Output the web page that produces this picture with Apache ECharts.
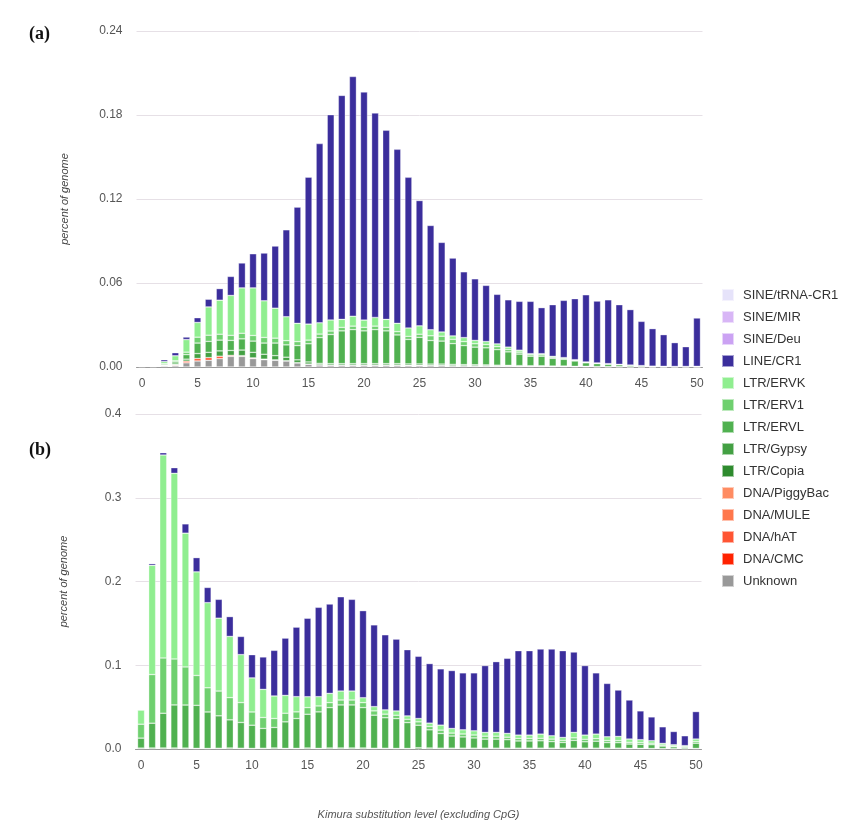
<!DOCTYPE html>
<html lang="en">
<head>
    <meta charset="UTF-8">
    <title>Kimura landscape</title>
    <script src="https://cdn.jsdelivr.net/npm/echarts@6/dist/echarts.min.js"></script>
    <style>
        html, body { margin: 0; padding: 0; background: #fff; }
        #main { width: 856px; height: 825px; }
    </style>
</head>
<body>
<div id="main"></div>
<script>
    // Kimura levels 0..50
    var levels = [];
    for (var i = 0; i <= 50; i++) levels.push(String(i));

    var legendNames = ['SINE/tRNA-CR1', 'SINE/MIR', 'SINE/Deu', 'LINE/CR1', 'LTR/ERVK', 'LTR/ERV1', 'LTR/ERVL',
        'LTR/Gypsy', 'LTR/Copia', 'DNA/PiggyBac', 'DNA/MULE', 'DNA/hAT', 'DNA/CMC', 'Unknown'];

    // (a) percent of genome
    var aUnknown = [0.0003,0.0003,0.0007,0.001,0.003,0.0043,0.0048,0.006,0.0076,0.0076,0.006,0.0052,0.0048,0.0043,0.0029,0.0019,0.0014,0.0012,0.0012,0.0012,0.0012,0.0012,0.0012,0.0012,0.001,0.001,0.001,0.001,0.0008,0.0008,0.0007,0.0007,0.0006,0.0006,0.0005,0.0005,0.0005,0.0004,0.0004,0.0003,0.0003,0.0002,0.0002,0.0002,0.0001,0.0001,0.0001,0.0001,0.0001,0.0001,0.0001];
    var aHat = [0,0,0.0002,0.0005,0.0012,0.0018,0.0019,0.0017,0.0007,0.0005,0.0005,0.0004,0.0003,0.0002,0.0002,0.0002,0.0002,0.0002,0.0002,0.0002,0.0002,0.0002,0.0002,0.0002,0.0002,0.0002,0.0001,0.0001,0.0001,0.0001,0.0001,0.0001,0.0001,0.0001,0,0,0,0,0,0,0,0,0,0,0,0,0,0,0,0,0];
    var aGypsy = [0,0,0.0003,0.0006,0.0014,0.0035,0.0038,0.0038,0.0035,0.004,0.004,0.0035,0.003,0.0025,0.002,0.0015,0.001,0.001,0.001,0.001,0.001,0.001,0.001,0.001,0.001,0.001,0.001,0.001,0.001,0.0008,0.0008,0.0007,0.0006,0.0005,0.0005,0.0004,0.0004,0.0003,0.0003,0.0002,0.0002,0.0001,0.0001,0.0001,0.0001,0,0,0,0,0,0];
    var aErvl = [0.0003,0.0003,0.0008,0.0015,0.0032,0.0075,0.0078,0.0077,0.0072,0.008,0.008,0.008,0.009,0.0088,0.0102,0.013,0.0184,0.0208,0.0234,0.0243,0.0234,0.0243,0.0234,0.0205,0.0175,0.019,0.0168,0.0164,0.0148,0.0136,0.0126,0.0122,0.0111,0.0096,0.0082,0.0068,0.0068,0.0055,0.0048,0.0038,0.0025,0.0021,0.0017,0.0013,0.001,0.0007,0.0004,0.0003,0.0003,0.0003,0.0004];
    var aErv1 = [0.0001,0.0001,0.0004,0.0008,0.0018,0.0042,0.0044,0.0042,0.0036,0.004,0.004,0.004,0.0035,0.003,0.0028,0.0026,0.0025,0.0025,0.0025,0.0025,0.0025,0.0025,0.0025,0.0023,0.0022,0.0022,0.0034,0.0035,0.0031,0.0028,0.0024,0.0023,0.0021,0.0017,0.0014,0.001,0.001,0.0008,0.0007,0.0005,0.0003,0.0003,0.0002,0.0002,0.0001,0.0001,0.0001,0.0001,0,0,0];
    var aErvk = [0.0004,0.0004,0.0015,0.0036,0.009,0.0105,0.0202,0.0243,0.0285,0.0324,0.034,0.0262,0.0214,0.0171,0.0131,0.0114,0.0081,0.0079,0.0057,0.0071,0.0052,0.0062,0.0057,0.006,0.006,0.006,0.0043,0.003,0.0024,0.0029,0.0024,0.0022,0.002,0.0017,0.0014,0.0008,0.0008,0.0006,0.0005,0.0004,0.0003,0.0002,0.0002,0.0001,0.0001,0.0001,0,0,0,0,0];
    var aCr1 = [0.0003,0.0003,0.0013,0.0022,0.0018,0.0034,0.0055,0.0083,0.0136,0.0178,0.0244,0.0341,0.0444,0.0621,0.083,0.105,0.128,0.1466,0.16,0.1712,0.1629,0.146,0.1351,0.1243,0.1076,0.0895,0.0745,0.064,0.0556,0.047,0.044,0.0401,0.0354,0.0338,0.0349,0.0374,0.0329,0.0369,0.0409,0.0436,0.048,0.0442,0.0456,0.0426,0.0396,0.0316,0.0268,0.0226,0.017,0.0141,0.0345];

    // (b) percent of genome
    var bGypsy = [0.0011,0.0012,0.0012,0.0012,0.0011,0.0008,0.0007,0.0009,0.0012,0.0009,0.0007,0.0009,0.0012,0.0008,0.0008,0.0012,0.0008,0.0012,0.0012,0.0012,0.0012,0.0009,0.0009,0.0007,0.0007,0.0015,0.0012,0.001,0.001,0.001,0.001,0.001,0.001,0.001,0.001,0.001,0.001,0.001,0.001,0.001,0.001,0.001,0.001,0.001,0.0008,0.0008,0.0006,0.0005,0.0004,0.0003,0.0007];
    var bErvl = [0.0119,0.0296,0.0415,0.0514,0.0514,0.0514,0.0435,0.0387,0.0336,0.0308,0.0277,0.0237,0.0245,0.0316,0.0356,0.0403,0.0435,0.0482,0.0514,0.0514,0.0482,0.0395,0.0364,0.0356,0.0308,0.0269,0.0217,0.0175,0.0145,0.0134,0.0122,0.0108,0.0108,0.0101,0.0086,0.0086,0.0088,0.0078,0.0068,0.0093,0.0076,0.0083,0.0066,0.0065,0.0051,0.0048,0.0045,0.003,0.0022,0.0017,0.0062];
    var bErv1 = [0.0166,0.0581,0.066,0.0549,0.0455,0.0356,0.0289,0.0296,0.0265,0.0237,0.0158,0.013,0.0107,0.0103,0.0079,0.0079,0.0071,0.0059,0.0059,0.0059,0.0059,0.0051,0.0043,0.004,0.004,0.004,0.004,0.004,0.0035,0.0035,0.0035,0.0035,0.0035,0.003,0.003,0.003,0.003,0.003,0.0025,0.003,0.003,0.003,0.0025,0.0025,0.002,0.002,0.0018,0.0012,0.001,0.0008,0.002];
    var bErvk = [0.017,0.1304,0.2423,0.2217,0.1597,0.1237,0.1016,0.087,0.0731,0.0573,0.0407,0.0336,0.0269,0.0213,0.0182,0.013,0.0111,0.0111,0.0107,0.0107,0.0059,0.0051,0.0051,0.0051,0.004,0.004,0.004,0.006,0.0055,0.005,0.005,0.0045,0.0045,0.0045,0.004,0.004,0.005,0.004,0.0035,0.0065,0.005,0.0055,0.0045,0.005,0.004,0.0035,0.003,0.002,0.0015,0.0012,0.003];
    var bCr1 = [0,0.002,0.0028,0.0067,0.0111,0.017,0.0182,0.0225,0.0237,0.0217,0.0277,0.0387,0.0545,0.0684,0.083,0.0937,0.1067,0.1067,0.1126,0.1095,0.104,0.0976,0.0897,0.0858,0.0791,0.0743,0.0711,0.0672,0.0692,0.068,0.0692,0.0798,0.0845,0.0897,0.1008,0.1008,0.1016,0.1036,0.1036,0.096,0.083,0.0731,0.0637,0.0554,0.0466,0.0344,0.0284,0.0198,0.0158,0.0118,0.0328];

    var colors = {
        'SINE/tRNA-CR1': '#e6e3fa', 'SINE/MIR': '#d8b6f6', 'SINE/Deu': '#cba2f3', 'LINE/CR1': '#3b2e9c',
        'LTR/ERVK': '#90ee90', 'LTR/ERV1': '#6fd06f', 'LTR/ERVL': '#50b150', 'LTR/Gypsy': '#43a043',
        'LTR/Copia': '#2e8b2e', 'DNA/PiggyBac': '#ff8c62', 'DNA/MULE': '#ff774c', 'DNA/hAT': '#ff5533',
        'DNA/CMC': '#ff2200', 'Unknown': '#999999'
    };

    // stacking order, bottom to top
    var stackOrder = legendNames.slice().reverse();
    var topData = {'Unknown': aUnknown, 'DNA/hAT': aHat, 'LTR/Gypsy': aGypsy, 'LTR/ERVL': aErvl,
        'LTR/ERV1': aErv1, 'LTR/ERVK': aErvk, 'LINE/CR1': aCr1};
    var botData = {'LTR/Gypsy': bGypsy, 'LTR/ERVL': bErvl, 'LTR/ERV1': bErv1, 'LTR/ERVK': bErvk, 'LINE/CR1': bCr1};

    function makeSeries(dataMap, idx, stack) {
        return stackOrder.map(function (name) {
            return {
                name: name,
                type: 'bar',
                stack: stack,
                xAxisIndex: idx,
                yAxisIndex: idx,
                barWidth: 7,
                data: dataMap[name] || [],
                itemStyle: { color: colors[name], borderColor: 'rgba(255,255,255,0.55)', borderWidth: 0.6 },
                emphasis: { disabled: true }
            };
        });
    }

    var font = 'Liberation Sans, Arial, sans-serif';

    function xAx(idx, name) {
        return {
            type: 'category', gridIndex: idx, data: levels,
            axisLine: { lineStyle: { color: '#999', width: 1 } },
            axisTick: { show: false },
            axisLabel: { interval: 4, margin: 11, fontSize: 12, color: '#555', fontFamily: font },
            name: name || '', nameLocation: 'middle', nameGap: 60,
            nameTextStyle: { fontStyle: 'italic', color: '#555', fontSize: 11, fontFamily: font }
        };
    }

    function yAx(idx, max, step, digits) {
        return {
            type: 'value', gridIndex: idx, min: 0, max: max, interval: step,
            axisLine: { show: false }, axisTick: { show: false },
            axisLabel: { margin: 14, fontSize: 12, color: '#555', fontFamily: font,
                formatter: function (v) { return v.toFixed(digits); } },
            splitLine: { lineStyle: { color: '#e6e0e6', width: 1 } },
            name: 'percent of genome', nameLocation: 'middle', nameGap: 66,
            nameTextStyle: { fontStyle: 'italic', color: '#444', fontSize: 11, fontFamily: font }
        };
    }

    var myChart = echarts.init(document.getElementById('main'));
    var option = {
        animation: false,
        backgroundColor: '#fff',
        title: [
            { text: '(a)', left: 24, top: 20, textStyle: { fontFamily: 'Liberation Serif, serif', fontWeight: 'bold', fontSize: 18, color: '#111' } },
            { text: '(b)', left: 24, top: 436, textStyle: { fontFamily: 'Liberation Serif, serif', fontWeight: 'bold', fontSize: 18, color: '#111' } }
        ],
        legend: {
            orient: 'vertical', left: 716, top: 283,
            data: legendNames, icon: 'rect', itemWidth: 12, itemHeight: 12, itemGap: 8,
            selectedMode: false,
            textStyle: { color: '#333', fontSize: 13, fontFamily: font, padding: [0, 0, 0, 4] }
        },
        grid: [
            { left: 136.5, right: 153.5, top: 31, bottom: 458 },
            { left: 135.5, right: 154.5, top: 414, bottom: 76 }
        ],
        xAxis: [xAx(0), xAx(1, 'Kimura substitution level (excluding CpG)')],
        yAxis: [yAx(0, 0.24, 0.06, 2), yAx(1, 0.4, 0.1, 1)],
        series: makeSeries(topData, 0, 'a').concat(makeSeries(botData, 1, 'b'))
    };
    myChart.setOption(option);
</script>
</body>
</html>
